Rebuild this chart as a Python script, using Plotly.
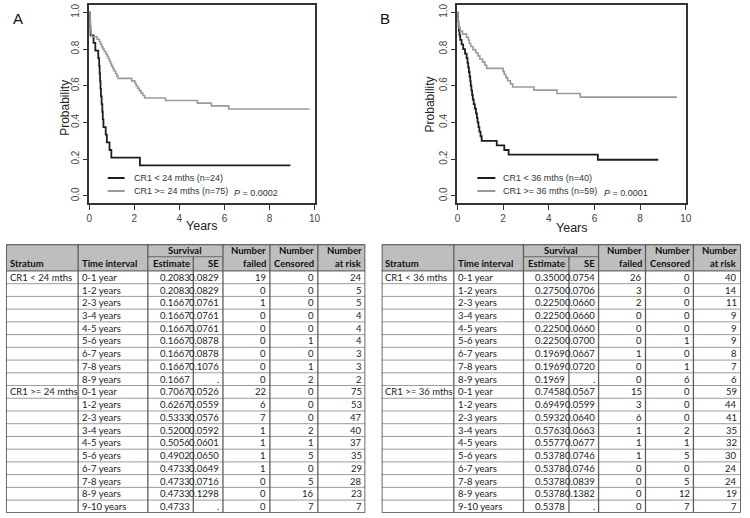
import plotly.graph_objects as go

W, H = 750, 518

# ---------------- Kaplan-Meier step data ----------------
# Panel A
a_low_t = [0, 0.02, 0.04, 0.05, 0.19, 0.27, 0.40, 0.44, 0.46, 0.48, 0.50, 0.52, 0.55, 0.58, 0.60, 0.63, 0.73, 0.78, 0.90, 0.98, 2.25, 8.93]
a_low_s = [1.0, 0.9583, 0.9167, 0.8750, 0.8333, 0.7917, 0.7500, 0.7083, 0.6667, 0.6250, 0.5833, 0.5417, 0.5000, 0.4583, 0.4167, 0.3750, 0.3333, 0.2917, 0.2500, 0.2083, 0.1667, 0.1667]
a_high_t = [0, 0.01, 0.02, 0.03, 0.04, 0.05, 0.06, 0.07, 0.08, 0.09, 0.10, 0.35, 0.45, 0.50, 0.55, 0.60, 0.66, 0.74, 0.80, 0.85, 0.90, 0.95, 0.99,
            1.05, 1.10, 1.17, 1.22, 1.28, 1.88, 2.02, 2.08, 2.15, 2.22, 2.30, 2.38, 2.46, 3.38, 4.80, 5.42, 6.19, 9.78]
a_high_s = [1.0, 0.9867, 0.9733, 0.9600, 0.9467, 0.9333, 0.9200, 0.9067, 0.8933, 0.8800, 0.8667, 0.8533, 0.8400, 0.8267, 0.8133, 0.8000,
            0.7867, 0.7733, 0.7600, 0.7467, 0.7333, 0.7200, 0.7067, 0.6933, 0.6800, 0.6667, 0.6533, 0.6400, 0.6267, 0.6133, 0.6000,
            0.5867, 0.5733, 0.5600, 0.5467, 0.5333, 0.5200, 0.5056, 0.4902, 0.4733, 0.4733]
# Panel B
b_low_t = [0, 0.01, 0.02, 0.04, 0.06, 0.09, 0.12, 0.18, 0.25, 0.33, 0.40, 0.44, 0.47, 0.50, 0.53, 0.56, 0.58, 0.61, 0.64, 0.67, 0.71,
           0.76, 0.81, 0.85, 0.88, 0.92, 0.96, 1.01, 1.06, 1.72, 2.05, 2.24, 6.15, 8.80]
b_low_s = [1.0, 0.975, 0.950, 0.925, 0.900, 0.875, 0.850, 0.825, 0.800, 0.775, 0.750, 0.725, 0.700, 0.675, 0.650, 0.625, 0.600,
           0.575, 0.550, 0.525, 0.500, 0.475, 0.450, 0.425, 0.400, 0.375, 0.350, 0.325, 0.300, 0.275, 0.250, 0.225, 0.1969, 0.1969]
b_high_t = [0, 0.01, 0.02, 0.03, 0.05, 0.07, 0.12, 0.22, 0.40, 0.48, 0.52, 0.58, 0.68, 0.80, 0.90, 0.98, 1.10, 1.20, 1.28,
            2.00, 2.05, 2.12, 2.20, 2.32, 2.42, 3.35, 4.36, 5.38, 9.62]
b_high_s = [1.0, 0.9831, 0.9661, 0.9492, 0.9322, 0.9153, 0.8983, 0.8814, 0.8644, 0.8475, 0.8305, 0.8136, 0.7966, 0.7797, 0.7627,
            0.7458, 0.7288, 0.7119, 0.6949, 0.6780, 0.6610, 0.6441, 0.6271, 0.6102, 0.5932, 0.5763, 0.5577, 0.5378, 0.5378]

legend_a = ["CR1 < 24 mths (n=24)", "CR1 >= 24 mths (n=75)"]
legend_b = ["CR1 < 36 mths (n=40)", "CR1 >= 36 mths (n=59)"]
pval_a = "0.0002"
pval_b = "0.0001"

x_ticks = [0, 2, 4, 6, 8, 10]
y_ticks = [0.0, 0.2, 0.4, 0.6, 0.8, 1.0]
y_ticktext = ["0.0", "0.2", "0.4", "0.6", "0.8", "1.0"]

# ---------------- Table data ----------------
intervals = ["0-1 year", "1-2 years", "2-3 years", "3-4 years", "4-5 years",
             "5-6 years", "6-7 years", "7-8 years", "8-9 years", "9-10 years"]

ta_strata = ["CR1 < 24 mths", "CR1 >= 24 mths"]
ta1_est = ["0.2083", "0.2083", "0.1667", "0.1667", "0.1667", "0.1667", "0.1667", "0.1667", "0.1667"]
ta1_se = ["0.0829", "0.0829", "0.0761", "0.0761", "0.0761", "0.0878", "0.0878", "0.1076", "."]
ta1_fail = [19, 0, 1, 0, 0, 0, 0, 0, 0]
ta1_cens = [0, 0, 0, 0, 0, 1, 0, 1, 2]
ta1_risk = [24, 5, 5, 4, 4, 4, 3, 3, 2]
ta2_est = ["0.7067", "0.6267", "0.5333", "0.5200", "0.5056", "0.4902", "0.4733", "0.4733", "0.4733", "0.4733"]
ta2_se = ["0.0526", "0.0559", "0.0576", "0.0592", "0.0601", "0.0650", "0.0649", "0.0716", "0.1298", "."]
ta2_fail = [22, 6, 7, 1, 1, 1, 1, 0, 0, 0]
ta2_cens = [0, 0, 0, 2, 1, 5, 0, 5, 16, 7]
ta2_risk = [75, 53, 47, 40, 37, 35, 29, 28, 23, 7]

tb_strata = ["CR1 < 36 mths", "CR1 >= 36 mths"]
tb1_est = ["0.3500", "0.2750", "0.2250", "0.2250", "0.2250", "0.2250", "0.1969", "0.1969", "0.1969"]
tb1_se = ["0.0754", "0.0706", "0.0660", "0.0660", "0.0660", "0.0700", "0.0667", "0.0720", "."]
tb1_fail = [26, 3, 2, 0, 0, 0, 1, 0, 0]
tb1_cens = [0, 0, 0, 0, 0, 1, 0, 1, 6]
tb1_risk = [40, 14, 11, 9, 9, 9, 8, 7, 6]
tb2_est = ["0.7458", "0.6949", "0.5932", "0.5763", "0.5577", "0.5378", "0.5378", "0.5378", "0.5378", "0.5378"]
tb2_se = ["0.0567", "0.0599", "0.0640", "0.0663", "0.0677", "0.0746", "0.0746", "0.0839", "0.1382", "."]
tb2_fail = [15, 3, 6, 1, 1, 1, 0, 0, 0, 0]
tb2_cens = [0, 0, 0, 2, 1, 5, 0, 5, 12, 7]
tb2_risk = [59, 44, 41, 35, 32, 30, 24, 24, 19, 7]

# ---------------- Style ----------------
BLACK = "#1e1e1e"
GRAY = "#9a9a9a"
FRAME = "#333333"
AXFONT = "Liberation Sans, Arial, sans-serif"
TFONT = "Lato, Open Sans, sans-serif"

def px(x):
    return x / W

def py(y):
    return 1 - y / H

fig = go.Figure()

# ---------------- KM plots ----------------
panels = [
    dict(xa="x", ya="y", lt=a_low_t, ls=a_low_s, ht=a_high_t, hs=a_high_s, leg=legend_a, p=pval_a,
         dom=(87.3, 315.3), letter="A", letx=15, ylab_x=62, ylab_y=106, xlab_y=225,
         leg_x=(0.82, 1.57), leg_tx=1.88, p_x=6.35),
    dict(xa="x2", ya="y2", lt=b_low_t, ls=b_low_s, ht=b_high_t, hs=b_high_s, leg=legend_b, p=pval_b,
         dom=(460.0, 691.0), letter="B", letx=387, ylab_x=432, ylab_y=103, xlab_y=227,
         leg_x=(0.87, 1.66), leg_tx=1.92, p_x=6.32),
]

annotations = []
shapes = []

for i, pn in enumerate(panels):
    fig.add_trace(go.Scatter(x=pn["lt"], y=pn["ls"], mode="lines", line=dict(color=BLACK, width=1.8, shape="hv"),
                             xaxis=pn["xa"], yaxis=pn["ya"], showlegend=False, hoverinfo="skip"))
    fig.add_trace(go.Scatter(x=pn["ht"], y=pn["hs"], mode="lines", line=dict(color=GRAY, width=1.6, shape="hv"),
                             xaxis=pn["xa"], yaxis=pn["ya"], showlegend=False, hoverinfo="skip"))
    sfx = "" if i == 0 else "2"
    ax_common = dict(showline=True, mirror=True, linecolor=FRAME, linewidth=1.5, ticks="outside", ticklen=5,
                     tickwidth=1.2, tickcolor=FRAME, showgrid=False, zeroline=False,
                     tickfont=dict(family=AXFONT, size=10, color="#444"))
    fig.update_layout(**{
        "xaxis" + sfx: dict(ax_common, domain=[px(pn["dom"][0]), px(pn["dom"][1])], range=[0, 10],
                            tickvals=x_ticks, anchor="y" + sfx),
        "yaxis" + sfx: dict(ax_common, domain=[py(202), py(3)], range=[-0.04, 1.04], tickvals=y_ticks,
                            ticktext=y_ticktext, tickangle=-90, anchor="x" + sfx),
    })
    # legend lines and text
    for k, (col, yy) in enumerate([(BLACK, 0.098), (GRAY, 0.027)]):
        shapes.append(dict(type="line", xref=pn["xa"], yref=pn["ya"], x0=pn["leg_x"][0], x1=pn["leg_x"][1],
                           y0=yy, y1=yy, line=dict(color=col, width=2)))
        annotations.append(dict(xref=pn["xa"], yref=pn["ya"], x=pn["leg_tx"], y=yy, text=pn["leg"][k],
                                showarrow=False, xanchor="left", yanchor="middle",
                                font=dict(family=AXFONT, size=9, color="#333")))
    annotations.append(dict(xref=pn["xa"], yref=pn["ya"], x=pn["p_x"], y=0.016, text="<i>P</i> = " + pn["p"],
                            showarrow=False, xanchor="left", yanchor="middle",
                            font=dict(family=AXFONT, size=9, color="#333")))
    # titles
    annotations.append(dict(xref="paper", yref="paper", x=px(pn["ylab_x"]), y=py(pn["ylab_y"]), text="Probability",
                            textangle=-90, showarrow=False, xanchor="center", yanchor="middle",
                            font=dict(family=AXFONT, size=12, color="#222")))
    annotations.append(dict(xref="paper", yref="paper", x=px((pn["dom"][0] + pn["dom"][1]) / 2), y=py(pn["xlab_y"]),
                            text="Years", showarrow=False, xanchor="center", yanchor="middle",
                            font=dict(family=AXFONT, size=12.5, color="#222")))
    annotations.append(dict(xref="paper", yref="paper", x=px(pn["letx"]), y=py(17), text=pn["letter"],
                            showarrow=False, xanchor="center", yanchor="middle",
                            font=dict(family=AXFONT, size=15, color="#111")))

# ---------------- Tables ----------------
col_w = [73, 70.5, 46, 30, 47.5, 48.5, 48]
col_edges = [0]
for w in col_w:
    col_edges.append(col_edges[-1] + w)
TW = col_edges[-1]
HDR = -2.09          # header top in row units
SUB = -1.12          # split between "Survival" and "Estimate/SE"
NROWS = 19

tables = [
    dict(xa="x3", ya="y3", dom=(3.0, 366.7), strata=ta_strata,
         g=[(ta1_est, ta1_se, ta1_fail, ta1_cens, ta1_risk), (ta2_est, ta2_se, ta2_fail, ta2_cens, ta2_risk)]),
    dict(xa="x4", ya="y4", dom=(383.3, 746.8), strata=tb_strata,
         g=[(tb1_est, tb1_se, tb1_fail, tb1_cens, tb1_risk), (tb2_est, tb2_se, tb2_fail, tb2_cens, tb2_risk)]),
]

for j, tb in enumerate(tables):
    sfx = str(j + 3)
    fig.update_layout(**{
        "xaxis" + sfx: dict(domain=[px(tb["dom"][0]), px(tb["dom"][1])], range=[0, TW], visible=False,
                            anchor="y" + sfx, fixedrange=True),
        "yaxis" + sfx: dict(domain=[py(512.8), py(243.3)], range=[NROWS, HDR], visible=False,
                            anchor="x" + sfx, fixedrange=True),
    })
    xa, ya = tb["xa"], tb["ya"]
    # header background
    shapes.append(dict(type="rect", xref=xa, yref=ya, x0=0, x1=TW, y0=HDR, y1=0, fillcolor="#bebebe",
                       line=dict(width=0), layer="below"))
    # horizontal row lines
    for r in range(1, NROWS):
        shapes.append(dict(type="line", xref=xa, yref=ya, x0=0, x1=TW, y0=r, y1=r,
                           line=dict(color="#9c9c9c", width=1)))
    shapes.append(dict(type="line", xref=xa, yref=ya, x0=0, x1=TW, y0=0, y1=0, line=dict(color="#6a6a6a", width=1.2)))
    # header sub-split under "Survival"
    shapes.append(dict(type="line", xref=xa, yref=ya, x0=col_edges[2], x1=col_edges[4], y0=SUB, y1=SUB,
                       line=dict(color="#6a6a6a", width=1)))
    # vertical lines
    for c in range(1, len(col_edges) - 1):
        y0 = SUB if c == 3 else HDR
        shapes.append(dict(type="line", xref=xa, yref=ya, x0=col_edges[c], x1=col_edges[c], y0=y0, y1=NROWS,
                           line=dict(color="#5e5e5e", width=1.3)))
    # outer border
    shapes.append(dict(type="rect", xref=xa, yref=ya, x0=0, x1=TW, y0=HDR, y1=NROWS,
                       line=dict(color="#444", width=1.6)))

    hfont = dict(family=TFONT, size=9.5, color="#111", weight="bold")
    cfont = dict(family=TFONT, size=9.5, color="#222")
    r1 = (HDR + SUB) / 2
    r2 = SUB / 2

    def txt(x, y, s, anchor, font):
        annotations.append(dict(xref=xa, yref=ya, x=x, y=y, text=s, showarrow=False, xanchor=anchor,
                                yanchor="middle", font=font))

    pad = 1.8
    txt(col_edges[0] + pad, r2, "Stratum", "left", hfont)
    txt(col_edges[1] + pad, r2, "Time interval", "left", hfont)
    txt((col_edges[2] + col_edges[4]) / 2, r1, "Survival", "center", hfont)
    txt(col_edges[3] - pad, r2, "Estimate", "right", hfont)
    txt(col_edges[4] - pad, r2, "SE", "right", hfont)
    for c, (l1, l2) in zip([5, 6, 7], [("Number", "failed"), ("Number", "Censored"), ("Number", "at risk")]):
        txt(col_edges[c] - pad, r1, l1, "right", hfont)
        txt(col_edges[c] - pad, r2, l2, "right", hfont)

    row = 0
    for gi, (est, se, fail, cens, risk) in enumerate(tb["g"]):
        for k in range(len(est)):
            yc = row + 0.5
            if k == 0:
                txt(col_edges[0] + pad, yc, tb["strata"][gi], "left", cfont)
            txt(col_edges[1] + pad, yc, intervals[k], "left", cfont)
            txt(col_edges[3] - pad, yc, est[k], "right", cfont)
            txt(col_edges[4] - pad, yc, se[k], "right", cfont)
            txt(col_edges[5] - pad, yc, str(fail[k]), "right", cfont)
            txt(col_edges[6] - pad, yc, str(cens[k]), "right", cfont)
            txt(col_edges[7] - pad, yc, str(risk[k]), "right", cfont)
            row += 1

fig.update_layout(width=W, height=H, margin=dict(l=0, r=0, t=0, b=0), paper_bgcolor="white",
                  plot_bgcolor="white", showlegend=False, annotations=annotations, shapes=shapes)

fig.write_html("out.html", config={"displayModeBar": False},
               post_script="document.body.style.margin='0';document.body.style.overflow='hidden';")
